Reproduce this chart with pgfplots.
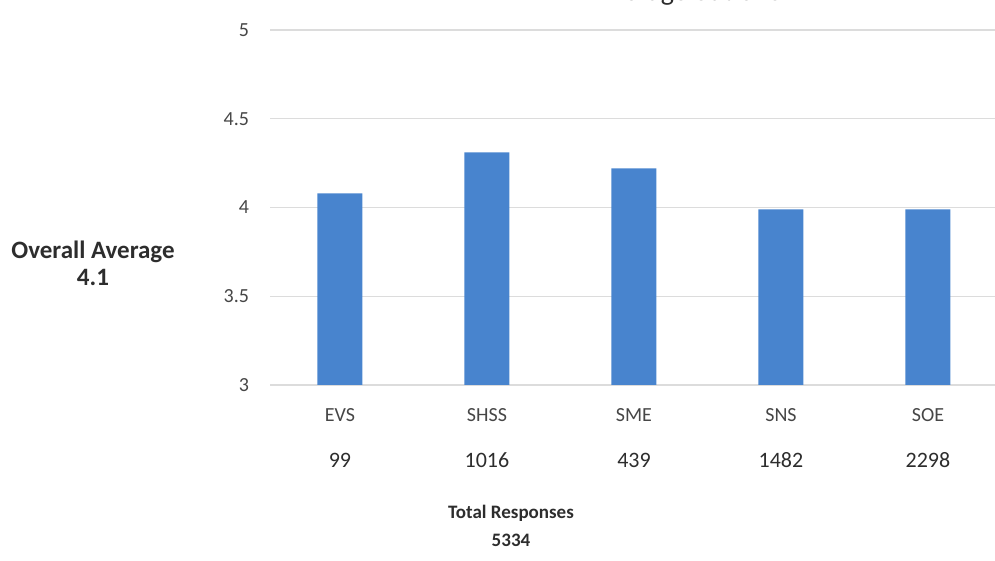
\documentclass[border=0pt]{standalone}
\usepackage{pgfplots}
\pgfplotsset{compat=1.18}
\usepackage{fontspec}
\setmainfont{Carlito}

\definecolor{barblue}{RGB}{72,132,206}
\definecolor{txtgray}{RGB}{70,70,70}
\definecolor{gridgray}{RGB}{220,220,220}
\definecolor{darktxt}{RGB}{45,45,45}

\begin{document}
\begin{tikzpicture}[x=0.5pt,y=0.5pt]
\useasboundingbox (0,0) rectangle (995,561);
\begin{axis}[
    at={(135pt,88pt)}, anchor=south west,
    scale only axis,
    width=362.5pt, height=177.5pt,
    xmin=-0.476, xmax=4.456,
    ymin=3, ymax=5,
    ytick={3,3.5,4,4.5,5},
    xtick={0,1,2,3,4},
    xticklabels={EVS,SHSS,SME,SNS,SOE},
    ybar, bar width=22.5pt,
    axis line style={draw=none},
    major tick length=0pt,
    ymajorgrids,
    grid style={gridgray, line width=0.6pt},
    tick label style={txtgray, font=\fontsize{10}{12}\selectfont},
    yticklabel style={xshift=-7pt},
    xticklabel style={yshift=-8pt},
    /pgf/number format/assume math mode=true,
    clip=false,
]
\addplot[fill=barblue, draw=none] coordinates {
    (0,4.08) (1,4.31) (2,4.22) (3,3.99) (4,3.99)
};

% responses per school
\foreach \i/\n in {0/99,1/1016,2/439,3/1482,4/2298} {
    \edef\tmp{\noexpand\node[darktxt, font=\noexpand\fontsize{11}{13}\noexpand\selectfont]
        at (axis cs:\i,3) [yshift=-37.5pt] {\n};}
    \tmp
}
\end{axis}

\node[anchor=base east, darktxt, font=\fontsize{14}{16}\selectfont] at (790,560) {Average out of 5};
\node[darktxt, font=\bfseries\fontsize{12.5}{15}\selectfont] at (93,309) {Overall Average};
\node[darktxt, font=\bfseries\fontsize{12.5}{15}\selectfont] at (93,284) {4.1};
\node[darktxt, font=\bfseries\fontsize{9.5}{11}\selectfont] at (511,48) {Total Responses};
\node[darktxt, font=\bfseries\fontsize{9.5}{11}\selectfont] at (511,21) {5334};
\end{tikzpicture}
\end{document}
